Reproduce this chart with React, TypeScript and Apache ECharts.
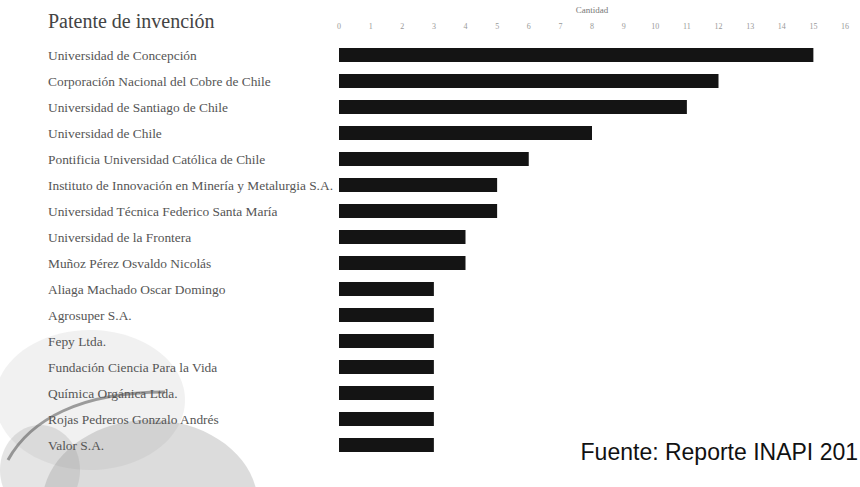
import React, { useEffect, useRef } from "react";
import * as echarts from "echarts";

const categories = [
  "Universidad de Concepción",
  "Corporación Nacional del Cobre de Chile",
  "Universidad de Santiago de Chile",
  "Universidad de Chile",
  "Pontificia Universidad Católica de Chile",
  "Instituto de Innovación en Minería y Metalurgia S.A.",
  "Universidad Técnica Federico Santa María",
  "Universidad de la Frontera",
  "Muñoz Pérez Osvaldo Nicolás",
  "Aliaga Machado Oscar Domingo",
  "Agrosuper S.A.",
  "Fepy Ltda.",
  "Fundación Ciencia Para la Vida",
  "Química Orgánica Ltda.",
  "Rojas Pedreros Gonzalo Andrés",
  "Valor S.A.",
];
const values = [15, 12, 11, 8, 6, 5, 5, 4, 4, 3, 3, 3, 3, 3, 3, 3];
const titleText = "Patente de invención";
const axisName = "Cantidad";
const sourceText = "Fuente: Reporte INAPI 201";

export default function App() {
  const ref = useRef<HTMLDivElement>(null);
  useEffect(() => {
    if (!ref.current) return;
    const chart = echarts.init(ref.current, null, { renderer: "svg" });
    chart.setOption({
      animation: false,
      backgroundColor: "#ffffff",
      grid: { left: 339, right: 15, top: 42, bottom: 29, containLabel: false },
      xAxis: {
        type: "value",
        position: "top",
        min: 0,
        max: 16,
        interval: 1,
        name: axisName,
        nameLocation: "middle",
        nameGap: 28,
        nameTextStyle: { fontFamily: "Liberation Serif", fontSize: 9, color: "#777" },
        axisLine: { show: false },
        axisTick: { show: false },
        splitLine: { show: false },
        axisLabel: { fontFamily: "Liberation Serif", fontSize: 8, color: "#999", margin: 12 },
      },
      yAxis: {
        type: "category",
        inverse: true,
        data: categories,
        axisLine: { show: false },
        axisTick: { show: false },
        axisLabel: {
          align: "left",
          margin: 291,
          fontFamily: "Liberation Serif",
          fontSize: 13.4,
          color: "#555",
        },
      },
      series: [
        {
          type: "bar",
          data: values,
          barWidth: 14,
          itemStyle: { color: "#141414" },
        },
      ],
      graphic: [
        {
          type: "group",
          z: -10,
          children: [
            {
              type: "ellipse",
              shape: { cx: 90, cy: 400, rx: 95, ry: 70 },
              style: { fill: "rgba(170,170,170,0.16)" },
            },
            {
              type: "ellipse",
              shape: { cx: 150, cy: 505, rx: 108, ry: 85 },
              style: { fill: "rgba(140,140,140,0.30)" },
            },
            {
              type: "ellipse",
              shape: { cx: 40, cy: 470, rx: 40, ry: 45 },
              style: { fill: "rgba(150,150,150,0.25)" },
            },
            {
              type: "bezierCurve",
              shape: { x1: 8, y1: 460, x2: 165, y2: 392, cpx1: 30, cpy1: 420, cpx2: 80, cpy2: 392 },
              style: { stroke: "rgba(70,70,70,0.5)", lineWidth: 3, fill: null },
            },
          ],
        },
        {
          type: "text",
          left: 48,
          top: 11,
          style: {
            text: titleText,
            fontFamily: "Liberation Serif",
            fontSize: 20,
            fill: "#444",
          },
        },
        {
          type: "text",
          right: 2,
          top: 440,
          style: {
            text: sourceText,
            fontFamily: "Liberation Sans",
            fontSize: 23,
            fill: "#111",
          },
        },
      ],
    });
    return () => chart.dispose();
  }, []);
  return (
    <div
      ref={ref}
      style={{ position: "fixed", left: 0, top: 0, width: 860, height: 487 }}
    />
  );
}
